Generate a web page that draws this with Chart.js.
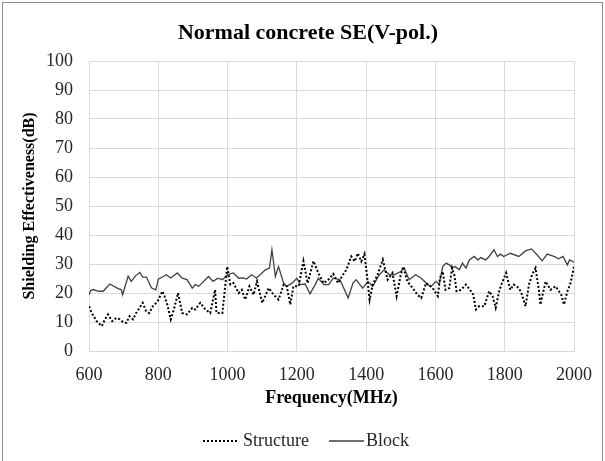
<!DOCTYPE html>
<html>
<head>
<meta charset="utf-8">
<script src="https://cdn.jsdelivr.net/npm/chart.js@4.4.1/dist/chart.umd.min.js"></script>
<style>
  html, body { margin: 0; padding: 0; background: #fff; }
  #wrap { position: relative; width: 605px; height: 461px; overflow: hidden; }
  #frame { position: absolute; left: 2px; top: 2px; width: 599px; height: 480px; border: 1px solid #8c8c8c; pointer-events: none; }
  canvas { position: absolute; left: 0; top: 0; }
</style>
</head>
<body>
<div id="wrap">
  <canvas id="chart" width="605" height="461"></canvas>
  <div id="frame"></div>
</div>
<script>
const titleText = 'Normal concrete SE(V-pol.)'
const xTitle = 'Frequency(MHz)'
const yTitle = 'Shielding Effectiveness(dB)'
const seriesNames = ['Structure', 'Block']

const structureFreq = [600, 608, 622, 632, 637, 646, 655, 667, 679, 689, 698, 708, 717, 727, 736, 746, 755, 765, 774, 784,
  798, 812, 818, 826, 836, 845, 857, 869, 883, 898, 907, 921, 936, 950, 964, 968, 974, 985, 999, 1008,
  1017, 1032, 1041, 1051, 1063, 1075, 1085, 1100, 1119, 1133, 1147, 1162, 1171, 1181, 1190, 1205, 1219, 1231, 1248, 1262,
  1277, 1291, 1305, 1319, 1333, 1343, 1357, 1367, 1376, 1386, 1395, 1400, 1410, 1419, 1433, 1448, 1462, 1476, 1488, 1500,
  1507, 1519, 1538, 1548, 1559, 1573, 1592, 1607, 1613, 1621, 1629, 1640, 1648, 1655, 1661, 1674, 1688, 1700, 1709, 1717,
  1726, 1741, 1755, 1765, 1774, 1784, 1792, 1804, 1816, 1826, 1841, 1850, 1860, 1870, 1879, 1889, 1899, 1903, 1918, 1932,
  1947, 1963, 1971, 1981, 1990, 2000]
const structureSE = [15.4, 13.1, 10.3, 9.1, 8.6, 10.9, 12.6, 10.3, 11.4, 10.9, 10.0, 9.7, 12.0, 10.9, 13.1, 14.9, 16.6, 13.7, 13.1, 15.4,
  17.1, 20.6, 18.9, 16.0, 10.9, 14.3, 20.0, 13.1, 12.6, 14.9, 14.3, 16.6, 14.3, 13.1, 21.1, 13.2, 13.1, 13.1, 29.1, 22.9,
  23.4, 20.0, 21.1, 17.7, 22.3, 19.4, 24.0, 16.6, 21.7, 19.4, 17.7, 22.9, 22.3, 16.0, 22.3, 22.3, 31.0, 23.4, 31.0, 26.9,
  23.4, 24.6, 26.6, 23.4, 26.3, 28.0, 32.6, 30.9, 33.7, 30.9, 33.4, 28.6, 17.7, 22.9, 26.3, 31.5, 24.6, 26.9, 18.9, 26.3,
  29.1, 24.0, 21.1, 19.4, 18.3, 23.4, 21.7, 18.9, 25.1, 27.4, 21.1, 21.7, 28.6, 26.0, 20.6, 21.1, 22.9, 21.1, 19.4, 14.3,
  15.4, 15.4, 20.6, 18.9, 14.9, 20.6, 23.4, 26.9, 21.1, 22.9, 21.7, 19.4, 15.4, 22.9, 26.3, 28.6, 20.6, 16.0, 24.0, 21.1,
  22.3, 19.4, 16.0, 20.6, 23.4, 29.1]

const blockFreq = [600, 605, 612, 628, 641, 660, 684, 693, 697, 713, 722, 735, 747, 755, 766, 780, 793, 800, 812, 823,
  836, 855, 869, 883, 898, 907, 917, 926, 945, 958, 972, 985, 1000, 1017, 1032, 1045, 1055, 1069, 1083, 1094,
  1109, 1121, 1128, 1138, 1147, 1162, 1171, 1186, 1200, 1210, 1224, 1238, 1253, 1262, 1278, 1292, 1305, 1324, 1333, 1348,
  1362, 1371, 1390, 1405, 1419, 1438, 1452, 1467, 1481, 1500, 1510, 1524, 1543, 1559, 1578, 1588, 1602, 1611, 1621, 1631,
  1640, 1648, 1657, 1669, 1678, 1688, 1698, 1712, 1722, 1731, 1745, 1755, 1769, 1779, 1788, 1797, 1816, 1841, 1860, 1877,
  1894, 1908, 1923, 1942, 1956, 1968, 1981, 1987, 2000]
const blockSE = [19.4, 20.9, 21.2, 20.6, 20.6, 23.1, 21.5, 21.2, 19.4, 25.8, 24.0, 26.0, 27.1, 25.5, 25.5, 21.8, 21.1, 24.8, 25.5, 26.3,
  25.2, 26.9, 25.1, 24.6, 21.7, 22.9, 22.3, 23.4, 25.7, 24.0, 25.1, 24.6, 26.3, 26.9, 25.1, 25.2, 24.8, 26.3, 25.2, 26.3,
  28.0, 28.6, 34.9, 25.7, 29.1, 23.4, 22.3, 23.4, 25.1, 22.9, 23.1, 19.7, 22.9, 25.1, 22.9, 22.9, 25.1, 24.6, 22.3, 18.3,
  23.4, 24.6, 21.7, 24.0, 22.3, 26.3, 28.0, 26.3, 26.3, 27.4, 28.6, 24.6, 26.3, 25.1, 22.9, 22.3, 24.0, 22.9, 29.1, 30.3,
  29.7, 28.6, 29.1, 28.0, 30.3, 28.6, 31.4, 32.6, 31.4, 32.2, 31.4, 32.6, 34.9, 32.6, 33.4, 32.6, 33.7, 32.6, 34.5, 35.2,
  33.1, 31.1, 33.4, 32.6, 31.8, 32.6, 29.7, 31.4, 30.6]

const serif = "'Liberation Serif', 'Times New Roman', serif"
const gridColor = '#d9d9d9'
const textColor = '#262626'

const toPoints = (xs, ys) => xs.map((x, i) => ({ x, y: ys[i] }))

// title and legend drawn straight onto the canvas
const decorations = {
  id: 'decorations',
  afterDraw(chart) {
    const ctx = chart.ctx
    ctx.save()
    ctx.fillStyle = '#000'
    ctx.textBaseline = 'middle'
    ctx.textAlign = 'center'
    ctx.font = `bold 22px ${serif}`
    ctx.fillText(titleText, 308, 33.5)

    const y = 441
    ctx.font = `18px ${serif}`
    ctx.textAlign = 'left'
    ctx.fillStyle = textColor

    ctx.strokeStyle = '#000'
    ctx.lineWidth = 2
    ctx.setLineDash([2, 2])
    ctx.beginPath()
    ctx.moveTo(203, y)
    ctx.lineTo(239, y)
    ctx.stroke()
    ctx.fillText(seriesNames[0], 243, y)

    ctx.strokeStyle = '#404040'
    ctx.lineWidth = 1.3
    ctx.setLineDash([])
    ctx.beginPath()
    ctx.moveTo(329, y)
    ctx.lineTo(364, y)
    ctx.stroke()
    ctx.fillText(seriesNames[1], 366, y)
    ctx.restore()
  },
}

new Chart(document.getElementById('chart'), {
  type: 'line',
  data: {
    datasets: [
      {
        label: seriesNames[0],
        data: toPoints(structureFreq, structureSE),
        borderColor: '#000',
        borderWidth: 2,
        borderDash: [2, 2],
        pointRadius: 0,
        tension: 0,
      },
      {
        label: seriesNames[1],
        data: toPoints(blockFreq, blockSE),
        borderColor: '#404040',
        borderWidth: 1.3,
        pointRadius: 0,
        tension: 0,
      },
    ],
  },
  options: {
    responsive: false,
    animation: false,
    layout: { padding: { top: 61, right: 29, bottom: 50, left: 0 } },
    plugins: {
      legend: { display: false },
      title: { display: false },
      tooltip: { enabled: false },
    },
    scales: {
      x: {
        type: 'linear',
        min: 600,
        max: 2000,
        afterFit(scale) { scale.height = 60 },
        ticks: { stepSize: 200, padding: 13, color: textColor, font: { family: serif, size: 18 }, callback: (v) => String(v) },
        grid: { color: gridColor, drawTicks: false },
        border: { color: gridColor },
        title: { display: true, text: xTitle, color: '#000', padding: 2, font: { family: serif, size: 18, weight: 'bold' } },
      },
      y: {
        min: 0,
        max: 100,
        afterFit(scale) { scale.width = 89 },
        ticks: { stepSize: 10, padding: 16, color: textColor, font: { family: serif, size: 18 }, callback: (v) => String(v) },
        grid: { color: gridColor, drawTicks: false },
        border: { color: gridColor },
        title: { display: true, text: yTitle, color: '#000', padding: { top: 20, bottom: 0 }, font: { family: serif, size: 16, weight: 'bold' } },
      },
    },
  },
  plugins: [decorations],
})
</script>
</body>
</html>
